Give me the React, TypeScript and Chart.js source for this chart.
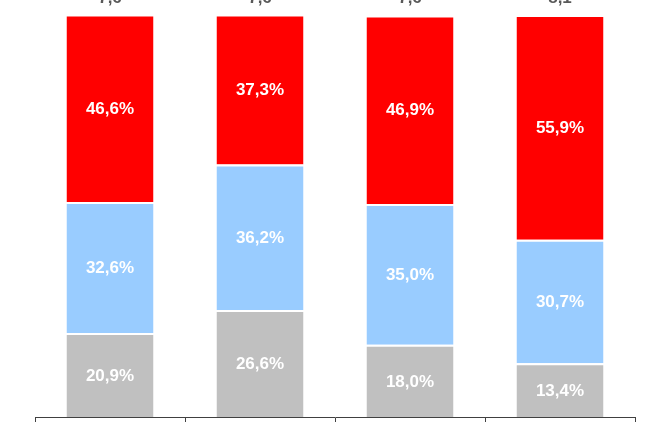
import React, { useEffect, useRef } from "react";
import { Chart, registerables } from "chart.js";

Chart.register(...registerables);

const categories = ["1", "2", "3", "4"];
const greyValues = [20.9, 26.6, 18.0, 13.4];
const blueValues = [32.6, 36.2, 35.0, 30.7];
const redValues = [46.6, 37.3, 46.9, 55.9];
const totals = ["7,6", "7,6", "7,6", "8,1"];

const fmt = (v: number) => v.toFixed(1).replace(".", ",") + "%";

const labelPlugin = {
  id: "segLabels",
  afterDatasetsDraw(chart: any) {
    const ctx = chart.ctx;
    ctx.save();
    ctx.font = "bold 17px 'Liberation Sans', Arial, sans-serif";
    ctx.fillStyle = "#ffffff";
    ctx.textAlign = "center";
    ctx.textBaseline = "middle";
    chart.data.datasets.forEach((ds: any, di: number) => {
      const meta = chart.getDatasetMeta(di);
      meta.data.forEach((el: any, i: number) => {
        const y = (el.y + el.base) / 2;
        ctx.fillText(fmt(ds.data[i]), el.x, y + 1);
      });
    });
    // totals above bars (mostly cut off at top)
    const last = chart.getDatasetMeta(chart.data.datasets.length - 1);
    ctx.fillStyle = "#595959";
    ctx.textBaseline = "alphabetic";
    last.data.forEach((el: any, i: number) => {
      ctx.fillText(totals[i], el.x, 3);
    });
    ctx.restore();
  },
};

export default function App() {
  const ref = useRef<HTMLCanvasElement | null>(null);
  useEffect(() => {
    if (!ref.current) return;
    const border = { top: 2, left: 0, right: 0, bottom: 0 };
    const common = {
      borderColor: "#ffffff",
      borderWidth: border,
      borderSkipped: false as any,
      categoryPercentage: 0.58,
      barPercentage: 1,
    };
    const chart = new Chart(ref.current, {
      type: "bar",
      data: {
        labels: categories,
        datasets: [
          { data: greyValues, backgroundColor: "#C0C0C0", ...common },
          { data: blueValues, backgroundColor: "#99CCFF", ...common },
          { data: redValues, backgroundColor: "#FF0000", ...common },
        ] as any,
      },
      options: {
        animation: false,
        responsive: false,
        maintainAspectRatio: false,
        layout: { padding: { left: 35, right: 25, top: 15, bottom: 8 } },
        plugins: { legend: { display: false }, tooltip: { enabled: false } },
        scales: {
          x: {
            stacked: true,
            ticks: { display: false },
            grid: { drawOnChartArea: false, drawTicks: true, tickLength: 5, color: "#404040", lineWidth: 1 },
            border: { color: "#404040", width: 1 },
          },
          y: {
            stacked: true,
            display: false,
            min: 0,
            max: 100,
          },
        },
      },
      plugins: [labelPlugin],
    });
    return () => chart.destroy();
  }, []);
  return (
    <div style={{ position: "absolute", left: 0, top: 0, width: 660, height: 430, background: "#fff" }}>
      <canvas ref={ref} width={660} height={430} style={{ display: "block" }} />
    </div>
  );
}
